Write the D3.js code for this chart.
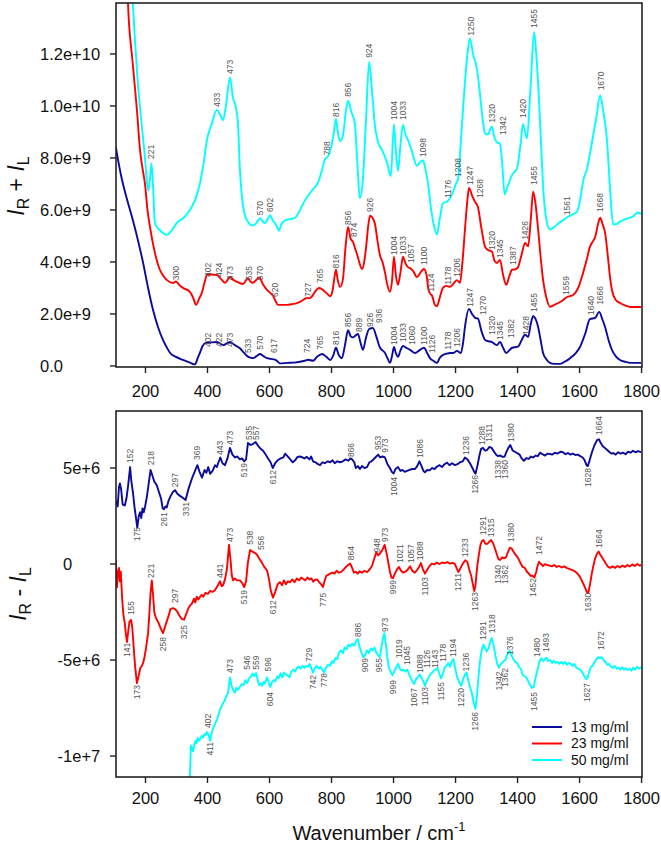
<!DOCTYPE html>
<html>
<head>
<meta charset="utf-8">
<script src="https://cdn.jsdelivr.net/npm/d3@7"></script>
<style>
  body { margin: 0; background: #fff; }
  svg text { font-family: "Liberation Sans", Arial, sans-serif; }
</style>
</head>
<body>
<div id="chart"></div>
<script>
// ---- data (wavenumber, value) ----
// top panel values are in units of 1e9, bottom panel in units of 1e6
const seriesNames = ["13 mg/ml", "23 mg/ml", "50 mg/ml"];
const seriesColors = ["#0a0a9c", "#ff0000", "#00ffff"];

const xTicks = [200, 400, 600, 800, 1000, 1200, 1400, 1600, 1800];
const topYTicks = [0, 2, 4, 6, 8, 10, 12];
const topYTickLabels = ["0.0", "2.0e+9", "4.0e+9", "6.0e+9", "8.0e+9", "1.0e+10", "1.2e+10"];
const botYTicks = [-10, -5, 0, 5];
const botYTickLabels = ["-1e+7", "-5e+6", "0", "5e+6"];

const sum13 = [[106,8.42],[115,7.8],[126,7.15],[140,6.5],[161,5.6],[178,4.8],[194,3.96],[210,3.0],[226,2.15],[242,1.5],[258,1.0],[270,0.72],[281,0.5],[300,0.35],[323,0.23],[345,0.13],[361,0.06],[370,0.3],[377,0.5],[385,0.75],[394,0.88],[410,0.9],[432,0.92],[452,0.8],[464,0.87],[474,0.92],[490,0.8],[506,0.68],[520,0.5],[532,0.36],[540,0.32],[548,0.3],[560,0.38],[571,0.46],[582,0.38],[594,0.3],[606,0.27],[619,0.24],[627,0.18],[635,0.1],[660,0.12],[680,0.13],[700,0.16],[715,0.2],[726,0.24],[742,0.2],[755,0.35],[771,0.46],[785,0.35],[797,0.23],[807,0.4],[816,0.7],[824,0.45],[835,0.3],[845,0.8],[855,1.38],[863,1.15],[871,1.1],[879,1.17],[887,1.23],[895,0.9],[903,0.62],[913,1.1],[923,1.42],[935,1.46],[947,1.1],[958,0.7],[966,0.6],[974,0.5],[982,0.3],[990,0.12],[997,0.4],[1003,0.73],[1009,0.5],[1016,0.35],[1024,0.6],[1032,0.77],[1045,0.68],[1055,0.62],[1071,0.5],[1085,0.6],[1100,0.7],[1110,0.5],[1119,0.3],[1130,0.2],[1142,0.12],[1150,0.3],[1161,0.42],[1172,0.47],[1184,0.5],[1195,0.5],[1206,0.58],[1219,0.5],[1226,0.9],[1232,1.5],[1245,2.19],[1255,2.0],[1265,1.85],[1274,1.82],[1285,1.35],[1297,1.0],[1308,0.95],[1319,0.92],[1327,0.85],[1335,0.8],[1345,0.92],[1355,0.7],[1365,0.5],[1375,0.6],[1384,0.7],[1403,0.74],[1415,1.0],[1426,1.2],[1436,1.12],[1444,1.6],[1452,1.92],[1460,1.8],[1468,1.5],[1476,1.0],[1484,0.5],[1495,0.25],[1506,0.12],[1520,0.08],[1539,0.08],[1555,0.17],[1571,0.3],[1590,0.5],[1603,0.73],[1620,1.25],[1635,1.8],[1652,1.85],[1665,2.08],[1675,1.8],[1684,1.5],[1695,1.0],[1706,0.62],[1718,0.38],[1732,0.23],[1750,0.16],[1765,0.12],[1800,0.12]];

const sum23 = [[140,16],[145,14.0],[160,11.7],[174,9.85],[184,8.3],[192,7.6],[200,7.0],[208,6.0],[216,5.35],[232,4.35],[248,3.7],[260,3.45],[271,3.3],[290,3.19],[300,3.25],[312,3.1],[323,3.0],[345,2.85],[356,2.6],[365,2.35],[375,2.6],[383,2.8],[392,3.2],[400,3.5],[415,3.52],[432,3.5],[445,3.35],[458,3.2],[466,3.3],[474,3.42],[486,3.3],[500,3.22],[516,3.15],[532,3.38],[540,3.25],[548,3.2],[558,3.3],[569,3.4],[580,3.15],[594,2.92],[605,2.8],[613,2.7],[621,2.5],[629,2.35],[645,2.35],[658,2.35],[675,2.38],[690,2.42],[705,2.5],[715,2.58],[723,2.62],[731,2.6],[739,2.68],[750,2.88],[761,3.0],[771,2.95],[781,2.85],[790,2.75],[797,2.68],[805,2.9],[811,3.4],[816,3.7],[821,3.35],[829,3.04],[838,3.3],[847,4.6],[855,5.35],[863,4.9],[871,4.77],[878,4.5],[884,4.3],[892,3.95],[900,3.73],[907,4.0],[913,4.55],[920,5.4],[926,5.78],[934,5.7],[942,5.45],[950,4.8],[958,4.25],[966,4.0],[974,3.6],[982,3.1],[990,2.85],[997,3.3],[1003,4.2],[1009,3.5],[1016,3.12],[1024,3.6],[1032,4.2],[1040,3.95],[1048,3.8],[1057,3.75],[1065,3.65],[1077,3.42],[1090,3.62],[1100,3.73],[1108,3.5],[1114,2.95],[1119,2.8],[1126,2.7],[1135,2.35],[1142,2.3],[1150,2.6],[1161,3.0],[1172,3.08],[1184,3.04],[1194,3.15],[1206,3.3],[1216,3.2],[1224,4.0],[1232,5.25],[1240,6.4],[1245,6.85],[1255,6.55],[1265,6.3],[1274,6.1],[1285,5.3],[1297,4.58],[1308,4.45],[1319,4.4],[1327,4.05],[1335,3.96],[1345,4.08],[1355,3.5],[1365,3.12],[1375,3.45],[1384,3.7],[1395,3.72],[1403,3.8],[1415,4.3],[1426,4.73],[1436,4.6],[1444,5.6],[1452,6.7],[1460,6.2],[1468,5.25],[1476,4.2],[1484,3.3],[1495,2.6],[1506,2.28],[1520,2.35],[1539,2.46],[1550,2.55],[1561,2.65],[1581,2.73],[1597,3.0],[1613,3.58],[1625,4.1],[1635,4.58],[1645,4.8],[1652,4.96],[1660,5.4],[1668,5.7],[1676,5.45],[1684,5.12],[1693,4.2],[1700,3.4],[1706,2.92],[1718,2.55],[1732,2.42],[1750,2.32],[1765,2.27],[1800,2.27]];

const sum50 = [[150,17],[161,13.96],[175,11.2],[190,9.2],[200,8.0],[206,7.1],[211,6.75],[216,7.2],[221,7.8],[226,6.9],[232,5.5],[245,5.25],[260,5.1],[271,5.04],[285,5.2],[303,5.5],[325,5.7],[345,6.0],[362,6.4],[377,7.0],[388,7.7],[400,8.7],[415,9.3],[432,9.85],[443,9.65],[452,9.45],[462,10.1],[474,11.1],[484,10.3],[492,10.0],[500,9.3],[506,7.6],[512,6.6],[520,5.9],[532,5.55],[548,5.4],[560,5.5],[571,5.68],[580,5.55],[588,5.5],[596,5.65],[603,5.8],[612,5.6],[619,5.5],[626,5.35],[632,5.2],[640,5.45],[652,5.6],[668,5.65],[684,5.7],[700,6.0],[715,6.35],[726,6.55],[742,6.8],[758,7.05],[770,7.5],[781,7.95],[790,8.05],[800,8.4],[808,8.9],[816,9.5],[822,9.0],[829,8.65],[839,8.9],[848,9.8],[855,10.2],[865,9.8],[877,9.3],[885,7.8],[893,6.45],[903,7.2],[913,9.5],[923,11.7],[932,10.6],[942,9.2],[952,8.6],[965,8.3],[981,7.8],[993,7.3],[1003,9.3],[1009,8.3],[1016,7.5],[1024,8.5],[1032,9.27],[1040,8.9],[1048,8.7],[1060,8.3],[1077,7.7],[1088,7.85],[1097,7.9],[1104,7.6],[1113,7.0],[1122,6.1],[1132,5.4],[1142,5.05],[1150,5.6],[1161,6.25],[1177,6.35],[1190,6.6],[1203,7.0],[1210,7.2],[1218,8.5],[1230,10.6],[1240,12.0],[1248,12.6],[1258,12.0],[1271,11.4],[1280,10.5],[1290,9.4],[1297,8.95],[1305,8.9],[1319,9.2],[1327,8.8],[1335,8.6],[1345,8.55],[1352,7.8],[1360,6.6],[1368,6.85],[1377,7.15],[1384,7.35],[1400,7.6],[1412,8.6],[1419,9.3],[1426,9.0],[1432,8.75],[1443,10.6],[1455,12.85],[1463,11.8],[1471,10.2],[1478,8.4],[1484,6.9],[1495,5.6],[1506,5.25],[1520,5.35],[1535,5.5],[1548,5.6],[1561,5.72],[1575,5.8],[1594,5.95],[1605,6.5],[1613,7.1],[1626,7.6],[1640,8.5],[1655,9.5],[1668,10.4],[1678,9.8],[1690,8.7],[1700,6.8],[1710,5.45],[1720,5.45],[1732,5.55],[1750,5.65],[1774,5.75],[1790,5.9],[1800,5.85]];

const roa13 = [[107,3.3],[112,3.0],[116,4.0],[119,4.2],[123,3.9],[128,3.1],[135,3.05],[140,3.4],[145,4.0],[152,5.05],[156,4.3],[161,3.75],[166,3.0],[171,2.4],[175,1.9],[180,2.5],[184,2.7],[188,2.4],[192,2.9],[196,2.7],[200,2.97],[206,3.5],[212,4.2],[218,4.9],[224,4.6],[230,4.3],[238,4.1],[246,3.7],[252,3.4],[257,2.9],[261,2.85],[266,3.0],[270,2.95],[276,3.3],[283,3.55],[290,3.75],[297,3.85],[305,3.65],[313,3.55],[322,3.45],[331,3.33],[340,3.9],[352,4.48],[360,4.8],[369,5.15],[376,4.8],[384,4.5],[392,4.9],[398,4.75],[404,5.05],[410,4.7],[418,4.85],[426,5.15],[432,5.05],[437,5.3],[443,5.55],[450,5.25],[458,5.15],[466,5.5],[474,6.05],[482,5.7],[490,5.55],[498,5.6],[506,5.45],[513,5.5],[520,5.35],[526,5.45],[532,6.3],[540,6.2],[548,6.25],[557,6.35],[565,6.15],[573,6.0],[581,5.9],[589,5.7],[597,5.5],[605,5.3],[612,5.0],[620,5.25],[629,5.42],[638,5.5],[646,5.55],[652,5.75],[658,5.65],[666,5.5],[672,5.38],[677,5.3],[684,5.4],[692,5.58],[700,5.6],[706,5.57],[714,5.5],[722,5.58],[730,5.45],[736,5.6],[742,5.35],[750,5.3],[758,5.2],[765,5.15],[772,5.3],[780,5.25],[790,5.35],[797,5.3],[805,5.4],[812,5.25],[820,5.35],[829,5.3],[838,5.35],[847,5.45],[856,5.38],[862,5.5],[868,5.45],[875,5.3],[880,5.0],[887,5.1],[893,4.95],[900,5.1],[908,5.0],[916,5.05],[924,5.3],[930,5.35],[935,5.42],[943,5.55],[952,5.7],[958,5.55],[966,5.6],[974,5.55],[982,5.2],[990,5.0],[996,4.8],[1002,4.72],[1008,4.95],[1016,5.05],[1024,4.85],[1030,4.9],[1038,4.8],[1045,4.85],[1053,4.9],[1062,4.95],[1071,4.95],[1078,5.1],[1085,5.35],[1092,5.1],[1098,4.85],[1103,4.78],[1110,4.9],[1118,4.88],[1126,5.0],[1134,4.95],[1142,5.08],[1150,5.15],[1158,5.05],[1166,5.2],[1174,5.28],[1182,5.15],[1190,5.25],[1200,5.15],[1208,5.2],[1216,5.3],[1225,5.35],[1232,5.55],[1240,5.45],[1248,5.25],[1256,5.0],[1262,4.8],[1266,4.7],[1272,5.1],[1278,5.6],[1284,6.0],[1290,6.05],[1297,5.9],[1304,5.95],[1311,6.1],[1318,6.05],[1326,5.85],[1332,5.7],[1338,5.62],[1346,5.65],[1353,5.58],[1360,5.6],[1366,5.85],[1372,6.05],[1378,6.2],[1386,5.9],[1393,5.85],[1400,5.78],[1408,5.7],[1415,5.5],[1422,5.38],[1430,5.52],[1438,5.48],[1445,5.6],[1452,5.55],[1460,5.65],[1467,5.62],[1474,5.8],[1482,5.72],[1490,5.65],[1498,5.75],[1506,5.73],[1514,5.7],[1522,5.8],[1530,5.75],[1540,5.85],[1548,5.82],[1556,5.72],[1564,5.78],[1572,5.7],[1580,5.75],[1588,5.68],[1596,5.7],[1604,5.62],[1612,5.55],[1618,5.4],[1624,5.15],[1628,5.1],[1634,5.4],[1642,5.85],[1650,6.2],[1658,6.45],[1664,6.5],[1670,6.3],[1676,6.15],[1683,6.05],[1690,5.95],[1697,5.85],[1704,5.75],[1710,5.78],[1718,5.7],[1726,5.82],[1734,5.75],[1742,5.8],[1750,5.72],[1758,5.85],[1766,5.8],[1774,5.9],[1782,5.82],[1790,5.88],[1800,5.83]];

const roa23 = [[106,0.2],[108,-0.6],[110,-1.2],[113,-0.4],[116,-0.2],[119,-0.9],[122,-0.4],[126,-1.7],[130,-2.6],[135,-3.1],[138,-3.6],[142,-4.06],[146,-3.5],[150,-3.0],[155,-2.9],[159,-3.3],[163,-4.2],[168,-5.3],[174,-6.2],[180,-5.8],[185,-5.4],[190,-5.3],[194,-5.15],[199,-4.8],[204,-4.3],[210,-3.6],[214,-2.6],[218,-1.5],[222,-0.85],[226,-1.6],[230,-2.5],[235,-2.8],[240,-2.95],[246,-3.15],[252,-3.4],[258,-3.6],[264,-3.3],[270,-3.0],[276,-2.7],[282,-2.35],[290,-2.3],[297,-2.35],[303,-2.45],[310,-2.65],[318,-2.85],[326,-2.9],[333,-2.6],[340,-2.3],[346,-2.15],[352,-2.05],[358,-1.8],[362,-2.0],[367,-1.7],[372,-1.85],[377,-1.72],[383,-1.6],[388,-1.7],[395,-1.5],[403,-1.55],[410,-1.4],[418,-1.45],[426,-1.35],[432,-1.2],[437,-1.05],[442,-0.9],[447,-1.15],[452,-1.1],[458,-0.8],[464,-0.3],[471,1.0],[476,0.2],[480,-0.6],[484,-0.85],[490,-0.75],[497,-0.85],[506,-0.85],[514,-1.0],[520,-1.2],[526,-0.9],[532,0.1],[539,0.73],[546,0.65],[553,0.6],[561,0.5],[568,0.3],[576,0.1],[585,-0.15],[594,-0.35],[600,-0.8],[606,-1.4],[613,-1.75],[620,-1.45],[628,-1.05],[635,-0.94],[642,-1.1],[648,-0.85],[655,-1.05],[661,-0.9],[668,-0.95],[675,-0.8],[682,-0.95],[690,-0.75],[697,-0.85],[704,-0.7],[710,-0.78],[717,-0.85],[724,-0.7],[730,-0.8],[737,-0.75],[743,-0.92],[748,-0.83],[755,-0.8],[762,-0.95],[768,-1.05],[774,-1.2],[779,-0.9],[785,-0.6],[790,-0.57],[797,-0.5],[804,-0.45],[811,-0.5],[818,-0.35],[825,-0.45],[832,-0.42],[840,-0.3],[848,-0.15],[855,-0.05],[862,0.02],[868,-0.2],[874,-0.45],[880,-0.4],[886,-0.5],[892,-0.38],[900,-0.45],[908,-0.35],[916,-0.42],[924,-0.3],[932,-0.1],[940,0.3],[946,0.62],[952,0.45],[958,0.55],[966,0.75],[973,1.0],[980,0.5],[985,0.05],[990,-0.4],[995,-0.7],[1000,-0.73],[1006,-0.5],[1012,-0.3],[1019,-0.15],[1026,-0.35],[1033,-0.45],[1040,-0.4],[1047,-0.3],[1055,-0.12],[1062,-0.35],[1070,-0.45],[1078,-0.3],[1084,-0.15],[1090,0.05],[1096,-0.25],[1103,-0.5],[1110,-0.3],[1118,-0.1],[1125,0.02],[1133,-0.02],[1141,0.08],[1150,0.0],[1158,0.08],[1166,0.05],[1175,0.1],[1184,0.02],[1192,0.06],[1200,0.0],[1206,-0.25],[1211,-0.42],[1218,-0.2],[1226,0.05],[1233,0.2],[1240,0.1],[1246,-0.3],[1252,-0.6],[1258,-1.1],[1262,-1.4],[1266,-1.1],[1271,-0.2],[1276,0.4],[1282,1.0],[1287,1.2],[1292,1.25],[1298,1.05],[1304,1.05],[1310,1.15],[1316,1.25],[1322,1.1],[1328,0.85],[1334,0.55],[1340,0.25],[1346,0.22],[1352,0.35],[1358,0.3],[1364,0.35],[1370,0.6],[1377,0.85],[1383,0.8],[1390,0.6],[1397,0.45],[1404,0.3],[1411,0.05],[1418,-0.15],[1425,-0.2],[1432,-0.4],[1438,-0.5],[1444,-0.62],[1450,-0.6],[1456,-0.7],[1462,-0.4],[1466,-0.1],[1471,0.12],[1477,0.0],[1484,-0.1],[1490,0.0],[1497,-0.05],[1505,-0.08],[1512,-0.12],[1520,-0.05],[1528,-0.15],[1536,-0.1],[1544,-0.18],[1552,-0.12],[1560,-0.2],[1568,-0.25],[1576,-0.3],[1584,-0.35],[1592,-0.45],[1600,-0.6],[1607,-0.8],[1613,-1.0],[1620,-1.25],[1625,-1.45],[1630,-1.5],[1636,-1.0],[1641,-0.5],[1646,-0.1],[1652,0.3],[1658,0.55],[1663,0.65],[1668,0.5],[1674,0.35],[1680,0.2],[1687,0.0],[1694,-0.15],[1700,-0.2],[1708,-0.12],[1716,-0.2],[1724,-0.1],[1732,-0.18],[1740,-0.08],[1748,-0.15],[1756,-0.05],[1764,-0.12],[1772,-0.02],[1780,-0.1],[1788,0.0],[1795,-0.08],[1800,-0.05]];

const roa50 = [[343,-12],[346,-10.5],[348,-9.45],[352,-9.6],[355,-9.75],[359,-9.4],[363,-9.2],[366,-9.35],[370,-9.05],[374,-9.2],[378,-9.1],[383,-8.95],[387,-9.05],[392,-8.85],[396,-8.9],[400,-8.75],[405,-8.9],[410,-9.2],[415,-8.8],[421,-8.5],[427,-8.3],[432,-8.1],[438,-7.8],[444,-7.5],[450,-7.3],[456,-7.15],[462,-6.9],[468,-6.7],[474,-5.9],[479,-6.3],[484,-6.55],[490,-6.7],[495,-6.45],[500,-6.55],[506,-6.4],[512,-6.25],[518,-6.3],[524,-6.05],[530,-6.2],[536,-5.95],[542,-5.85],[547,-5.7],[552,-5.85],[558,-5.68],[563,-6.0],[568,-6.3],[573,-6.2],[578,-6.35],[583,-6.15],[588,-6.2],[593,-5.9],[598,-6.1],[604,-6.4],[610,-6.15],[615,-6.05],[621,-6.1],[626,-5.85],[631,-5.95],[637,-5.7],[643,-5.9],[648,-5.65],[654,-5.75],[660,-5.8],[666,-5.9],[672,-5.6],[678,-5.5],[684,-5.6],[690,-5.4],[696,-5.35],[702,-5.45],[708,-5.3],[714,-5.4],[720,-5.3],[726,-5.35],[731,-5.2],[737,-5.45],[742,-5.65],[748,-5.4],[754,-5.3],[760,-5.45],[766,-5.35],[772,-5.5],[778,-5.65],[784,-5.4],[790,-5.25],[797,-5.3],[803,-5.05],[808,-5.15],[814,-4.9],[820,-4.95],[826,-4.6],[832,-4.5],[838,-4.65],[844,-4.35],[850,-4.45],[856,-4.2],[862,-4.3],[868,-4.15],[874,-4.25],[880,-4.05],[886,-3.9],[892,-4.3],[898,-4.6],[904,-4.85],[910,-4.75],[916,-4.5],[922,-4.65],[928,-4.4],[934,-4.5],[940,-4.35],[946,-4.6],[952,-4.75],[957,-4.85],[962,-4.4],[967,-3.9],[972,-3.6],[977,-4.2],[982,-4.9],[987,-5.4],[992,-5.6],[998,-5.8],[1004,-5.6],[1010,-5.4],[1016,-5.2],[1022,-5.45],[1028,-5.55],[1034,-5.5],[1040,-5.6],[1046,-5.5],[1052,-5.75],[1058,-5.95],[1064,-6.15],[1068,-6.25],[1074,-6.0],[1080,-5.9],[1086,-5.75],[1092,-5.95],[1098,-6.1],[1103,-6.35],[1108,-6.1],[1114,-5.95],[1120,-5.75],[1126,-5.65],[1132,-5.55],[1138,-5.5],[1143,-5.4],[1149,-5.7],[1155,-5.95],[1160,-5.75],[1166,-5.4],[1172,-5.3],[1178,-5.15],[1184,-5.35],[1190,-5.05],[1195,-4.95],[1200,-5.4],[1206,-5.85],[1212,-6.1],[1220,-6.35],[1226,-6.0],[1232,-5.75],[1237,-5.65],[1242,-6.0],[1248,-6.4],[1254,-6.7],[1260,-7.2],[1266,-7.55],[1271,-6.8],[1276,-5.8],[1281,-5.0],[1286,-4.5],[1291,-4.2],[1296,-4.35],[1302,-4.55],[1308,-4.4],[1313,-4.1],[1318,-3.85],[1324,-4.2],[1330,-4.75],[1336,-5.2],[1342,-5.4],[1348,-5.2],[1354,-5.1],[1362,-5.0],[1369,-4.7],[1376,-4.5],[1382,-4.75],[1388,-4.95],[1394,-5.1],[1400,-5.15],[1406,-5.35],[1412,-5.45],[1418,-5.75],[1424,-5.85],[1430,-5.9],[1436,-6.1],[1442,-6.3],[1448,-6.45],[1454,-6.4],[1460,-5.9],[1466,-5.5],[1472,-5.1],[1478,-4.9],[1484,-5.05],[1490,-4.95],[1495,-4.88],[1501,-5.05],[1507,-5.0],[1513,-5.15],[1519,-5.05],[1525,-5.15],[1531,-5.1],[1537,-5.2],[1543,-5.1],[1549,-5.2],[1555,-5.1],[1561,-5.25],[1567,-5.15],[1573,-5.2],[1579,-5.3],[1585,-5.2],[1591,-5.4],[1597,-5.45],[1603,-5.5],[1609,-5.6],[1614,-5.75],[1619,-5.9],[1624,-6.0],[1628,-5.9],[1633,-5.6],[1638,-5.35],[1644,-5.3],[1650,-5.1],[1656,-4.95],[1661,-4.85],[1667,-4.9],[1673,-4.85],[1679,-5.0],[1685,-5.1],[1691,-5.25],[1697,-5.2],[1703,-5.35],[1709,-5.4],[1715,-5.3],[1721,-5.45],[1727,-5.4],[1733,-5.5],[1739,-5.38],[1745,-5.5],[1751,-5.42],[1757,-5.52],[1763,-5.45],[1769,-5.55],[1775,-5.4],[1781,-5.5],[1787,-5.35],[1793,-5.45],[1800,-5.36]];

// peak labels: [label, value where the text starts, "a" above / "b" below, optional x if shifted]
const sumLabels13 = [[402,0.73],[422,0.73,"a",439],[473,0.73],[533,0.5],[570,0.62],[617,0.5],[724,0.5],[765,0.62],[816,0.81],[856,1.5],[889,1.31],[926,1.5],[936,1.65,"a",955],[1004,0.81],[1033,0.92],[1060,0.81],[1100,0.81],[1126,0.5],[1178,0.62],[1206,0.73],[1247,2.27],[1270,1.96,"a",1290],[1320,1.19],[1345,1.0],[1382,1.08],[1428,1.19],[1455,2.08],[1640,1.96],[1666,2.35]];
const sumLabels23 = [[300,3.3],[402,3.42],[424,3.42,"a",439],[473,3.3],[535,3.3],[570,3.3],[620,2.65],[727,2.65],[765,3.19],[816,3.75],[856,5.42],[874,4.96],[926,5.92],[1004,4.27],[1033,4.27],[1057,3.96],[1100,3.88],[1124,2.85],[1178,3.12],[1206,3.42],[1247,6.96],[1268,6.46,"a",1281],[1320,4.46],[1345,4.15],[1387,3.88],[1426,4.85],[1455,6.96],[1559,2.73],[1668,5.92]];
const sumLabels50 = [[221,7.96],[433,9.96],[473,11.23],[570,5.8],[602,5.92],[788,8.1],[816,9.58],[856,10.35],[924,11.85],[1004,9.46],[1033,9.46],[1098,8.04],[1176,6.46],[1208,7.27],[1250,12.7],[1320,9.35],[1342,8.88,"a",1355],[1420,9.54],[1455,13.0],[1561,5.8],[1670,10.6]];

const roaLabels13 = [[152,5.26,"a"],[175,1.93,"b"],[218,5.15,"a"],[261,2.7,"b"],[297,4.0,"a"],[331,3.23,"b"],[369,5.42,"a"],[443,5.68,"a"],[473,6.2,"a"],[519,5.26,"b"],[535,6.46,"a"],[557,6.46,"a"],[612,4.9,"b"],[866,5.57,"a"],[953,5.94,"a"],[973,5.8,"a"],[1004,4.53,"b"],[1086,5.52,"a"],[1236,5.68,"a"],[1266,4.64,"b"],[1288,6.2,"a"],[1311,6.35,"a"],[1338,5.42,"b"],[1360,5.42,"b"],[1380,6.35,"a"],[1628,5.0,"b"],[1664,6.72,"a"]];
const roaLabels23 = [[141,-4.1,"b"],[155,-2.66,"a"],[173,-6.3,"b"],[221,-0.73,"a"],[258,-3.8,"b"],[297,-2.03,"a"],[325,-3.18,"b"],[441,-0.73,"a"],[473,1.15,"a"],[519,-1.35,"b"],[538,1.0,"a"],[556,0.73,"a",574],[612,-1.88,"b"],[775,-1.5,"b"],[864,0.2,"a"],[948,0.6,"a"],[973,1.15,"a"],[999,-0.83,"b"],[1021,0.05,"a"],[1057,0.05,"a"],[1088,0.2,"a"],[1103,-0.68,"b"],[1211,-0.47,"b"],[1233,0.36,"a"],[1263,-1.46,"b"],[1291,1.5,"a"],[1315,1.4,"a"],[1340,-0.05,"b"],[1362,-0.05,"b"],[1380,1.15,"a"],[1452,-0.73,"b"],[1472,0.47,"a"],[1630,-1.5,"b"],[1664,0.83,"a"]];
const roaLabels50 = [[402,-8.54,"a"],[411,-9.27,"b"],[473,-5.68,"a"],[546,-5.5,"a",529],[559,-5.5,"a"],[596,-5.6,"a"],[604,-6.67,"b"],[729,-5.1,"a"],[742,-5.78,"b"],[778,-5.68,"b"],[886,-3.8,"a"],[909,-4.9,"b"],[955,-4.9,"b"],[973,-3.54,"a"],[999,-6.04,"b"],[1019,-4.9,"a"],[1045,-5.26,"a"],[1067,-6.46,"b"],[1088,-5.68,"a"],[1103,-6.4,"b"],[1126,-5.42,"a",1110],[1143,-5.42,"a",1135],[1155,-6.15,"b"],[1178,-5.1,"a",1161],[1194,-4.84,"a"],[1220,-6.46,"b"],[1236,-5.6,"a"],[1266,-7.7,"b"],[1291,-3.96,"a"],[1318,-3.6,"a"],[1342,-5.6,"b"],[1362,-5.42,"b"],[1376,-4.74,"a"],[1455,-6.67,"b"],[1480,-4.84,"a",1465],[1493,-4.58,"a"],[1627,-6.2,"b"],[1672,-4.48,"a"]];

// ---- layout ----
const width = 661, height = 844;
const left = 116, right = 642;
const svg = d3.select("#chart").append("svg")
    .attr("width", width)
    .attr("height", height);

const x = d3.scaleLinear().domain([106.5, 1803]).range([left, right]);

function drawPanel(id, top, bottom, y, curves, labels, curveType, yTicks, yTickLabels, yLabelX, xLabelPad) {
    const g = svg.append("g");

    g.append("clipPath").attr("id", id)
        .append("rect")
        .attr("x", left).attr("y", top)
        .attr("width", right - left).attr("height", bottom - top);

    const line = d3.line()
        .x(d => x(d[0]))
        .y(d => y(d[1]))
        .curve(curveType);

    const plot = g.append("g").attr("clip-path", `url(#${id})`);
    curves.forEach((c, i) => {
        plot.append("path")
            .datum(c)
            .attr("fill", "none")
            .attr("stroke", seriesColors[i])
            .attr("stroke-width", 1.9)
            .attr("stroke-linejoin", "round")
            .attr("d", line);
    });

    // peak labels
    labels.forEach(set => {
        g.append("g").selectAll("text")
            .data(set)
            .enter()
            .append("text")
            .attr("transform", d => `translate(${x(d[3] || d[0])},${y(d[1])}) rotate(-90)`)
            .attr("dy", "0.35em")
            .attr("text-anchor", d => d[2] === "b" ? "end" : "start")
            .attr("fill", "#555")
            .style("font-size", "8.5px")
            .text(d => d[0]);
    });

    // frame
    g.append("rect")
        .attr("x", left).attr("y", top)
        .attr("width", right - left).attr("height", bottom - top)
        .attr("fill", "none")
        .attr("stroke", "#222")
        .attr("stroke-width", 1.6);

    // x axis
    const xa = g.append("g")
        .attr("transform", `translate(0,${bottom})`)
        .call(d3.axisBottom(x).tickValues(xTicks).tickFormat(d3.format("d"))
            .tickSize(6).tickSizeOuter(0).tickPadding(xLabelPad));
    xa.select(".domain").remove();
    xa.selectAll("line").attr("stroke", "#222").attr("stroke-width", 1.4);
    xa.selectAll("text").style("font-size", "16.5px").attr("fill", "#111");

    // y axis
    const ya = g.append("g");
    ya.selectAll("line")
        .data(yTicks)
        .enter()
        .append("line")
        .attr("x1", left - 6).attr("x2", left)
        .attr("y1", d => y(d)).attr("y2", d => y(d))
        .attr("stroke", "#222").attr("stroke-width", 1.4);
    ya.selectAll("text")
        .data(yTicks)
        .enter()
        .append("text")
        .attr("x", yLabelX)
        .attr("y", d => y(d))
        .attr("dy", "0.35em")
        .attr("dx", (d, i) => yTickLabels[i].startsWith("-") ? "-0.33em" : 0)
        .attr("fill", "#111")
        .style("font-size", "16.5px")
        .text((d, i) => yTickLabels[i]);
}

const yTop = d3.scaleLinear().domain([-0.04, 13.96]).range([367, 3]);
const yBot = d3.scaleLinear().domain([-11.09, 7.97]).range([777, 411]);

drawPanel("clipTop", 3, 367, yTop, [sum13, sum23, sum50],
    [sumLabels50, sumLabels23, sumLabels13], d3.curveMonotoneX,
    topYTicks, topYTickLabels, 40, 12);
drawPanel("clipBot", 411, 777, yBot, [roa13, roa23, roa50],
    [roaLabels13, roaLabels23, roaLabels50], d3.curveLinear,
    botYTicks, botYTickLabels, 63, 9);

// axis titles
function yTitle(xPos, yPos, sign) {
    const t = svg.append("text")
        .attr("transform", `translate(${xPos},${yPos}) rotate(-90)`)
        .attr("text-anchor", "middle")
        .style("font-size", "23px")
        .attr("fill", "#111");
    t.append("tspan").style("font-style", "italic").text("I");
    t.append("tspan").attr("dy", 5).style("font-size", "16px").text("R");
    t.append("tspan").attr("dy", -5).text(" " + sign + " ");
    t.append("tspan").style("font-style", "italic").text("I");
    t.append("tspan").attr("dy", 5).style("font-size", "16px").text("L");
}
yTitle(24, 186, "+");
yTitle(26, 594, "-");

const xt = svg.append("text")
    .attr("x", (left + right) / 2)
    .attr("y", 840)
    .attr("text-anchor", "middle")
    .style("font-size", "20px")
    .attr("fill", "#111");
xt.append("tspan").text("Wavenumber / cm");
xt.append("tspan").attr("dy", -9).style("font-size", "13px").text("-1");

// legend
const legend = svg.append("g");
seriesNames.forEach((name, i) => {
    const ly = 727 + i * 16.5;
    legend.append("line")
        .attr("x1", 532).attr("x2", 562)
        .attr("y1", ly).attr("y2", ly)
        .attr("stroke", seriesColors[i])
        .attr("stroke-width", 2);
    legend.append("text")
        .attr("x", 571).attr("y", ly)
        .attr("dy", "0.35em")
        .style("font-size", "14px")
        .attr("fill", "#111")
        .text(name);
});
</script>
</body>
</html>
